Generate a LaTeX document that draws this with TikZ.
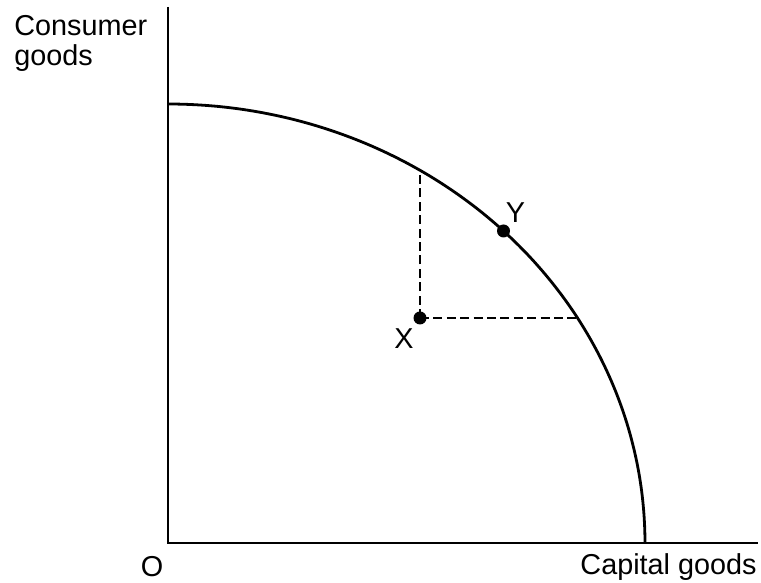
\documentclass[tikz,border=0pt]{standalone}
\usepackage{fontspec}
\setmainfont{Liberation Sans}
\usepackage{tikz}
\usetikzlibrary{positioning,calc}
\definecolor{Ink}{HTML}{000000}

\begin{document}
\begin{tikzpicture}[
	x=0.5pt, y=0.5pt,
	font=\fontsize{14.4pt}{15pt}\selectfont,
	axisline/.style={draw=Ink, line width=1.4pt},
	ppfcurve/.style={draw=Ink, line width=1.4pt},
	guideline/.style={draw=Ink, line width=0.7pt, dash pattern=on 4.5pt off 2.2pt},
	pointdot/.style={circle, fill=Ink, inner sep=0pt, minimum size=6.5pt},
	axislabel/.style={text=Ink, inner sep=0pt}
	]
	\useasboundingbox (-168,-40) rectangle (593,543);
	
	% axes
	\coordinate (O) at (0,0);
	\coordinate (ytop) at (0,536);
	\coordinate (xend) at (590,0);
	\draw[axisline] (ytop) -- (O) -- (xend);
	
	% production possibility frontier
	\draw[ppfcurve] plot[domain=90:0, samples=80, smooth] ({477*cos(\x)},{439*sin(\x)});
	
	% points
	\node[pointdot] (X) at (252,225) {};
	\node[pointdot] (Y) at ({477*cos(45.3)},{439*sin(45.3)}) {};
	\coordinate (Xup) at (252,{439*sqrt(1-(252/477)^2)});
	\coordinate (Xright) at ({477*sqrt(1-(225/439)^2)},225);
	\draw[guideline] (X.center) -- (Xup);
	\draw[guideline] (X.center) -- (Xright);
	
	% labels
	\node[axislabel, above right=4pt and 1pt of Y.center, anchor=south west] (Ylab) {Y};
	\node[axislabel, below left=5pt and 3pt of X.center, anchor=north east] (Xlab) {X};
	\node[axislabel] (Olab) at (-16,-24) {O};
	\node[axislabel, anchor=east] (xlab) at (589,-24) {Capital goods};
	\node[axislabel, anchor=north west, align=left] (ylab) at (-154,528) {Consumer\\goods};
\end{tikzpicture}
\end{document}
